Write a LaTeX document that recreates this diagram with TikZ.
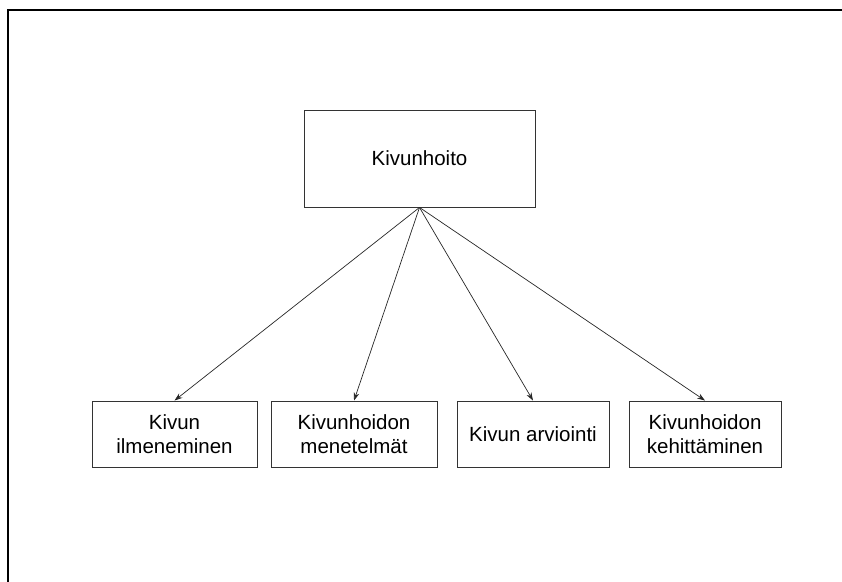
\documentclass[tikz,border=0pt]{standalone}
\usepackage{fontspec}
\setmainfont{Liberation Sans}
\usetikzlibrary{arrows.meta}
\begin{document}
\begin{tikzpicture}[x=1pt,y=-1pt,
  box/.style={draw=black!80,line width=0.9pt,fill=white,align=center,inner sep=0pt,
    font=\fontsize{20.5}{24}\selectfont},
  conn/.style={draw=black!85,line width=0.7pt,-{Stealth[length=8pt,width=5.5pt]}},
  frame/.style={draw=black,line width=2pt}]
\useasboundingbox (0,0) rectangle (842,581);
\coordinate (fbl) at (8,582);
\coordinate (ftl) at (8,10);
\coordinate (ftr) at (843,10);
\draw[frame] (fbl) -- (ftl) -- (ftr);
\node[box,minimum width=231pt,minimum height=97pt] (top) at (419.5,158.5) {Kivunhoito};
\node[box,minimum width=165pt,minimum height=66pt] (b1) at (174.5,434) {Kivun\\ilmeneminen};
\node[box,minimum width=166pt,minimum height=66pt] (b2) at (354,434) {Kivunhoidon\\menetelmät};
\node[box,minimum width=152pt,minimum height=66pt] (b3) at (533,434) {Kivun arviointi};
\node[box,minimum width=152pt,minimum height=66pt] (b4) at (705,434) {Kivunhoidon\\kehittäminen};
\draw[conn] (top.south) -- (b1.north);
\draw[conn] (top.south) -- (b2.north);
\draw[conn] (top.south) -- (b3.north);
\draw[conn] (top.south) -- (b4.north);
\end{tikzpicture}
\end{document}
